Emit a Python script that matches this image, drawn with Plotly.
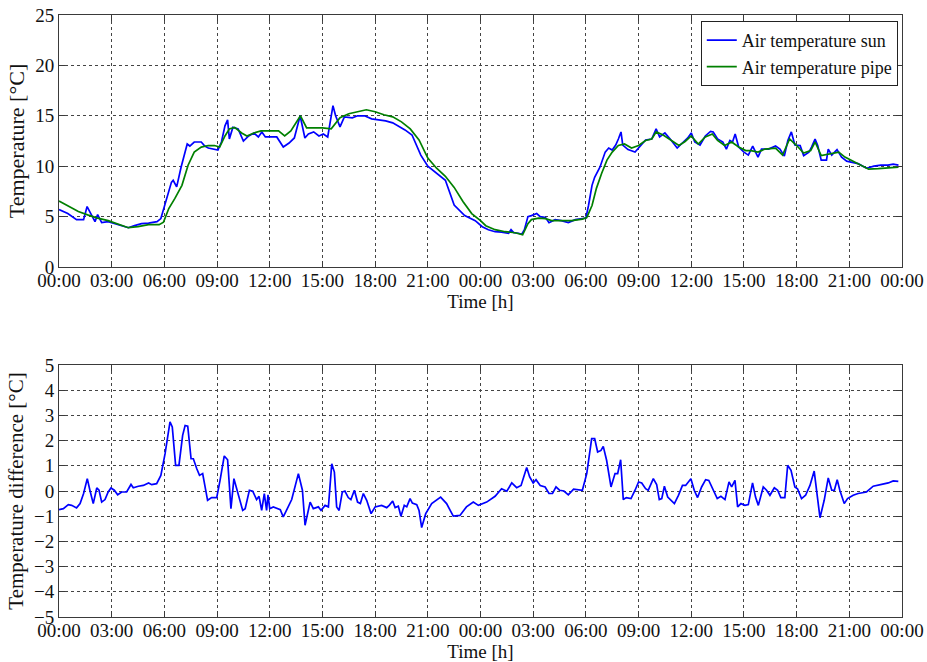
import plotly.graph_objects as go

# Time axis ticks (hours since start of the two-day record)
tick_hours = list(range(0, 49, 3))
tick_labels = ["00:00", "03:00", "06:00", "09:00", "12:00", "15:00", "18:00", "21:00",
               "00:00", "03:00", "06:00", "09:00", "12:00", "15:00", "18:00", "21:00", "00:00"]

# Air temperature measured in the sun [°C]
sun_hours = [0, 0.5, 1.0, 1.4, 1.6, 1.87, 2.05, 2.2, 2.43, 2.8, 3.2, 3.57, 3.95, 4.3, 4.7,
             5.1, 5.58, 5.8, 6.0, 6.2, 6.4, 6.5, 6.7, 6.95, 7.2, 7.3, 7.45, 7.7, 8.1, 8.3,
             8.5, 8.8, 9.05, 9.25, 9.45, 9.6, 9.7, 9.9, 10.2, 10.5, 10.8, 11.1, 11.35, 11.55,
             11.75, 12.0, 12.4, 12.77, 13.1, 13.4, 13.73, 14.0, 14.2, 14.5, 14.8, 15.05, 15.3,
             15.6, 15.75, 16.0, 16.25, 16.7, 17.0, 17.4, 17.8, 18.2, 18.6, 19.0, 19.3, 19.7,
             20.1, 20.6, 21.0, 21.6, 22.0, 22.5, 23.1, 23.7, 24.1, 24.45, 24.83, 25.2, 25.6,
             25.74, 25.9, 26.16, 26.35, 26.5, 26.7, 26.9, 27.2, 27.4, 27.7, 27.9, 28.25, 28.6,
             29.0, 29.4, 29.8, 30.0, 30.15, 30.35, 30.5, 30.8, 31.1, 31.3, 31.5, 31.7, 31.85,
             32.0, 32.1, 32.4, 32.8, 33.1, 33.4, 33.75, 34.0, 34.2, 34.5, 34.8, 35.2, 35.55,
             35.8, 36.0, 36.2, 36.5, 36.8, 37.1, 37.25, 37.5, 37.8, 38.0, 38.2, 38.35, 38.5,
             38.7, 39.0, 39.25, 39.5, 39.8, 40.0, 40.4, 40.8, 41.05, 41.3, 41.5, 41.7, 41.9,
             42.2, 42.4, 42.7, 42.85, 43.05, 43.2, 43.4, 43.7, 43.8, 44.0, 44.3, 44.56, 44.85,
             45.1, 45.5, 45.98, 46.4, 46.8, 47.2, 47.5, 47.8]
sun_temp = [5.7, 5.3, 4.7, 4.7, 6.0, 5.0, 4.5, 5.2, 4.4, 4.5, 4.3, 4.1, 3.9, 4.1, 4.3,
            4.35, 4.5, 4.8, 6.0, 7.1, 8.4, 8.6, 7.95, 9.9, 11.6, 12.2, 12.0, 12.4, 12.4, 12.0,
            11.8, 11.7, 11.6, 12.4, 14.0, 14.6, 12.7, 13.85, 13.7, 12.5, 13.0, 13.3, 12.9, 13.4,
            12.9, 12.9, 12.9, 11.9, 12.3, 12.8, 15.0, 12.8, 13.2, 13.4, 13.0, 13.2, 12.9,
            16.0, 15.0, 13.9, 14.9, 14.8, 15.0, 15.0, 14.7, 14.6, 14.5, 14.3, 14.0, 13.6,
            13.1, 11.1, 10.0, 9.2, 8.6, 6.15, 5.1, 4.6, 4.0, 3.7, 3.5, 3.45, 3.35,
            3.7, 3.4, 3.35, 3.25, 3.7, 5.0, 5.1, 5.3, 5.0, 4.9, 4.4, 4.7, 4.6,
            4.4, 4.7, 4.8, 4.85, 6.1, 8.1, 8.9, 9.9, 11.4, 11.8, 11.6, 12.1, 12.7,
            13.4, 12.1, 11.65, 11.4, 12.05, 12.6, 12.7, 13.7, 12.9, 13.3, 12.7, 11.8, 12.4,
            12.8, 13.3, 12.4, 12.1, 13.0, 13.45, 13.4, 12.7, 12.4, 11.7, 12.55, 12.4, 13.2,
            11.9, 11.4, 11.1, 12.0, 10.9, 11.7, 11.7, 12.0, 11.7, 11.0, 12.55, 13.4, 12.1,
            12.05, 11.05, 11.4, 11.9, 12.7, 12.05, 10.6, 10.6, 11.7, 11.1, 11.65, 10.9, 10.5,
            10.4, 10.25, 9.8, 10.0, 10.1, 10.1, 10.2, 10.1]

# Air temperature measured at the pipe [°C]
pipe_hours = [0, 0.5, 1.1, 1.67, 2.2, 2.8, 3.4, 3.95, 4.5, 5.1, 5.7, 5.95, 6.25, 6.6, 7.0,
              7.35, 7.7, 8.1, 8.5, 8.85, 9.15, 9.45, 9.7, 10.0, 10.4, 10.7, 11.1, 11.5, 12.0,
              12.5, 12.85, 13.2, 13.75, 14.1, 14.5, 15.0, 15.5, 15.75, 16.0, 16.5, 17.0, 17.5,
              18.0, 18.5, 19.0, 19.5, 20.0, 20.5, 21.0, 21.5, 22.0, 22.5, 23.0, 23.5, 24.0,
              24.3, 24.83, 25.4, 25.97, 26.4, 26.7, 26.9, 27.3, 27.7, 28.05, 28.6, 29.2, 29.8,
              30.05, 30.35, 30.6, 30.9, 31.2, 31.5, 31.85, 32.2, 32.6, 33.0, 33.4, 33.75, 34.0,
              34.4, 34.9, 35.3, 35.65, 36.0, 36.4, 36.8, 37.2, 37.5, 37.9, 38.3, 38.7, 39.1,
              39.4, 39.8, 40.2, 40.8, 41.2, 41.6, 42.0, 42.4, 42.8, 43.05, 43.4, 43.8, 44.4,
              44.75, 45.1, 45.5, 46.1, 46.65, 47.2, 47.8]
pipe_temp = [6.55, 6.1, 5.5, 5.15, 4.85, 4.6, 4.25, 3.9, 4.0, 4.2, 4.2, 4.45, 5.8, 6.8, 8.1,
             10.1, 11.4, 11.9, 12.05, 12.05, 11.9, 13.0, 13.7, 13.85, 13.3, 13.0, 13.3, 13.5, 13.5,
             13.5, 13.0, 13.5, 15.0, 13.8, 13.8, 13.8, 13.7, 14.3, 14.8, 15.2, 15.4, 15.6,
             15.4, 15.1, 14.9, 14.4, 13.7, 12.6, 10.8, 9.8, 9.0, 7.9, 6.5, 5.3, 4.6,
             4.1, 3.7, 3.5, 3.4, 3.2, 4.3, 4.7, 4.85, 4.8, 4.6, 4.6, 4.6, 4.75,
             4.9, 6.1, 7.8, 9.3, 10.6, 11.4, 12.05, 12.2, 11.8, 12.05, 12.55, 12.7, 13.4,
             13.1, 12.55, 12.05, 12.45, 13.0, 12.2, 12.9, 13.2, 12.55, 12.05, 12.4, 11.9, 11.55,
             11.55, 11.4, 11.7, 11.8, 11.1, 12.7, 12.05, 11.3, 11.55, 12.4, 11.05, 11.2, 11.4,
             10.9, 10.6, 10.25, 9.7, 9.75, 9.8, 9.9]

# Temperature difference between the two sensors [°C]
diff_hours = [0, 0.25, 0.53, 0.72, 1.0, 1.2, 1.4, 1.61, 1.76, 1.95, 2.15, 2.28, 2.43, 2.62,
              2.8, 2.96, 3.15, 3.34, 3.57, 3.85, 4.1, 4.23, 4.52, 4.8, 5.1, 5.28, 5.56, 5.8,
              6.04, 6.32, 6.45, 6.64, 6.83, 7.04, 7.18, 7.33, 7.52, 7.65, 7.84, 8.0, 8.18, 8.46,
              8.69, 8.98, 9.17, 9.41, 9.6, 9.79, 9.96, 10.17, 10.46, 10.6, 10.84, 11.03, 11.25,
              11.39, 11.54, 11.69, 11.82, 11.9, 12.0, 12.2, 12.4, 12.6, 12.77, 13.06, 13.25,
              13.63, 13.86, 14.01, 14.2, 14.3, 14.48, 14.77, 14.92, 15.15, 15.34, 15.53, 15.68,
              15.81, 15.95, 16.13, 16.28, 16.47, 16.62, 16.82, 17.0, 17.16, 17.33, 17.52, 17.77,
              18.0, 18.37, 18.66, 18.8, 19.0, 19.14, 19.32, 19.47, 19.66, 19.8, 19.99, 20.12,
              20.37, 20.5, 20.65, 20.88, 21.22, 21.73, 22.07, 22.45, 22.83, 23.2, 23.59, 23.88,
              24.35, 24.83, 25.2, 25.5, 25.78, 26.06, 26.31, 26.63, 26.8, 27.0, 27.16, 27.4,
              27.68, 27.9, 28.1, 28.3, 28.5, 28.75, 29.0, 29.3, 29.6, 29.8, 30.05, 30.33, 30.5,
              30.67, 30.86, 30.99, 31.18, 31.43, 31.66, 31.81, 31.98, 32.13, 32.3, 32.57, 32.8,
              33.0, 33.18, 33.4, 33.55, 33.84, 34.03, 34.18, 34.32, 34.47, 34.66, 35.04, 35.27,
              35.5, 35.68, 35.98, 36.17, 36.36, 36.59, 36.82, 37.0, 37.25, 37.48, 37.69, 37.92,
              38.15, 38.3, 38.49, 38.64, 38.83, 39.06, 39.25, 39.49, 39.66, 39.82, 40.1, 40.29,
              40.48, 40.73, 40.92, 41.1, 41.33, 41.49, 41.68, 41.9, 42.05, 42.28, 42.51, 42.76,
              43.0, 43.2, 43.33, 43.57, 43.8, 44.0, 44.15, 44.31, 44.46, 44.71, 44.9, 45.22,
              45.5, 45.98, 46.36, 46.84, 47.22, 47.5, 47.79]
diff_temp = [-0.74, -0.7, -0.54, -0.57, -0.67, -0.5, -0.1, 0.49, 0.03, -0.5, 0.12, 0.03, -0.44, -0.34,
             -0.04, 0.12, 0.03, -0.15, -0.04, -0.04, 0.26, 0.13, 0.19, 0.22, 0.32, 0.25, 0.29, 0.62,
             1.48, 2.74, 2.54, 1.02, 1.02, 2.21, 2.6, 2.57, 1.28, 1.28, 0.89, 0.62, 0.69, -0.37,
             -0.26, -0.26, 0.42, 1.39, 1.24, -0.7, 0.49, -0.04, -0.77, -0.7, 0.03, -0.01, -0.34,
             -0.21, -0.77, -0.1, -0.77, -0.15, -0.7, -0.63, -0.67, -0.74, -1.03, -0.57, -0.34,
             0.69, 0.03, -1.36, -0.77, -0.44, -0.7, -0.63, -0.77, -0.57, -0.63, 1.08, 0.75,
             -0.63, -0.77, -0.04, 0.0, -0.26, -0.34, 0.03, -0.44, -0.5, -0.1, -0.37, -0.9,
             -0.63, -0.57, -0.66, -0.57, -0.4, -0.66, -0.6, -1.0, -0.57, -0.63, -0.3, -0.48,
             -0.54, -0.77, -1.45, -0.9, -0.5, -0.24, -0.5, -1.0, -0.97, -0.63, -0.44, -0.57,
             -0.44, -0.21, 0.09, -0.01, 0.32, 0.13, 0.22, 0.93, 0.56, 0.32, 0.45, 0.22,
             0.16, -0.1, -0.1, 0.16, 0.03, 0.0, -0.15, 0.07, 0.05, 0.03, 0.69, 2.08, 2.08,
             1.55, 1.61, 1.77, 1.22, 0.16, 0.69, 0.69, 1.24, -0.34, -0.26, -0.3, 0.03,
             0.36, 0.32, 0.09, 0.03, 0.49, 0.26, -0.34, -0.3, 0.19, -0.24, -0.5, -0.17,
             0.22, 0.22, 0.49, 0.03, -0.26, 0.16, 0.45, 0.42, 0.03, -0.3, -0.21, -0.34,
             0.36, 0.16, 0.42, -0.63, -0.5, -0.57, -0.54, 0.32, -0.24, -0.57, 0.16, 0.03,
             -0.17, 0.13, 0.03, -0.26, -0.26, 1.02, 0.82, 0.16, 0.09, -0.3, -0.17, 0.22,
             0.79, -0.3, -1.06, -0.37, 0.52, 0.03, 0.03, 0.45, 0.03, -0.5, -0.3, -0.17,
             -0.1, -0.04, 0.19, 0.26, 0.32, 0.4, 0.38]

SERIF = "Liberation Serif"
BLUE = "#0000ff"
GREEN = "#008000"
INK = "#111111"

fig = go.Figure()
fig.add_trace(go.Scatter(x=sun_hours, y=sun_temp, mode="lines", name="Air temperature sun",
                         line=dict(color=BLUE, width=1.7), xaxis="x", yaxis="y"))
fig.add_trace(go.Scatter(x=pipe_hours, y=pipe_temp, mode="lines", name="Air temperature pipe",
                         line=dict(color=GREEN, width=1.7), xaxis="x", yaxis="y"))
fig.add_trace(go.Scatter(x=diff_hours, y=diff_temp, mode="lines", showlegend=False,
                         line=dict(color=BLUE, width=1.7), xaxis="x2", yaxis="y2"))

axis_common = dict(
    showline=True, linecolor="#3a3a3a", linewidth=1, mirror="ticks",
    ticks="inside", ticklen=6, tickcolor="#3a3a3a",
    showgrid=True, gridcolor="#444444", griddash="dot", gridwidth=1,
    zeroline=False, automargin=False,
    tickfont=dict(family=SERIF, size=19, color=INK),
)

x_common = dict(axis_common, range=[0, 48], tickmode="array", tickvals=tick_hours,
                ticktext=tick_labels, ticklabelstandoff=-4,
                title=dict(text="Time [h]", font=dict(family=SERIF, size=19, color=INK),
                           standoff=0))

fig.update_layout(
    width=927, height=662,
    margin=dict(l=59, r=25, t=15, b=45),
    paper_bgcolor="white", plot_bgcolor="white",
    xaxis=dict(x_common, domain=[0, 1], anchor="y"),
    yaxis=dict(axis_common, domain=[0.5814, 1], anchor="x", range=[0, 25], dtick=5,
               title=dict(text="Temperature [°C]",
                          font=dict(family=SERIF, size=22, color=INK), standoff=4)),
    xaxis2=dict(x_common, domain=[0, 1], anchor="y2"),
    yaxis2=dict(axis_common, domain=[0, 0.4186], anchor="x2", range=[-5, 5], dtick=1,
                title=dict(text="Temperature difference [°C]",
                           font=dict(family=SERIF, size=21, color=INK), standoff=4)),
    legend=dict(x=0.995, y=0.99, xanchor="right", yanchor="top",
                bgcolor="white", bordercolor="#222", borderwidth=1,
                font=dict(family=SERIF, size=18, color=INK),
                tracegroupgap=0, itemwidth=30),
    showlegend=True,
)

fig.write_html("out.html")
